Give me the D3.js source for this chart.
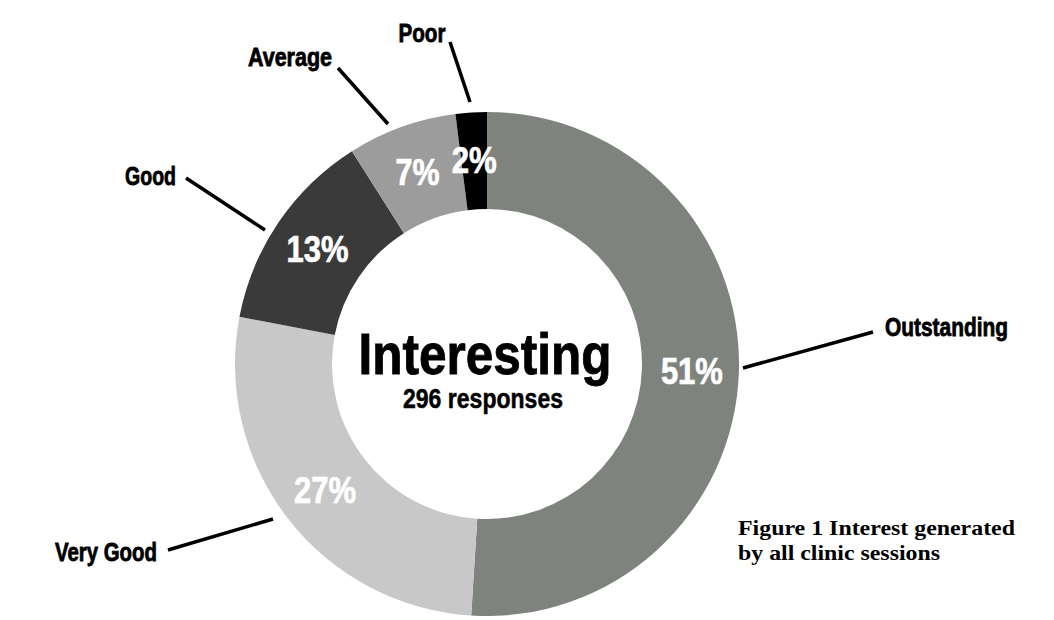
<!DOCTYPE html>
<html>
<head>
<meta charset="utf-8">
<script src="https://cdn.jsdelivr.net/npm/d3@7/dist/d3.min.js"></script>
<style>
  html, body { margin: 0; padding: 0; background: #fff; }
  svg { display: block; }
  .cond { font-family: "Liberation Sans", Arial, Helvetica, sans-serif; font-weight: bold; }
</style>
</head>
<body>
<svg id="chart" width="1054" height="620"></svg>
<script>
// ---- data ----
const categories = ["Outstanding", "Very Good", "Good", "Average", "Poor"];
const percentValues = [51, 27, 13, 7, 2];
const percentLabels = ["51%", "27%", "13%", "7%", "2%"];
const centerTitle = "Interesting";
const centerSubtitle = "296 responses";
const captionLines = ["Figure 1 Interest generated", "by all clinic sessions"];

// ---- layout / style ----
const cx = 487, cy = 364;
const outerR = 252, innerR = 155, labelR = 205;
const colors = d3.scaleOrdinal().domain(categories)
  .range(["#7f837d", "#c8c8c8", "#3a3a3a", "#9c9c9c", "#000000"]);

// condensed look: fixed rendered widths per text
const pctWidths = { "51%": 62, "27%": 62, "13%": 62, "7%": 44, "2%": 45 };
const leaders = {
  "Outstanding": { p1: [743, 368], p2: [873, 332], tx: 885, ty: 336, anchor: "start",  w: 123 },
  "Very Good":   { p1: [273, 519], p2: [168, 550], tx: 157, ty: 561, anchor: "end",    w: 102 },
  "Good":        { p1: [265, 230], p2: [186, 178], tx: 176, ty: 185, anchor: "end",    w: 51 },
  "Average":     { p1: [388, 124], p2: [338, 68],  tx: 332, ty: 66,  anchor: "end",    w: 84 },
  "Poor":        { p1: [470, 102], p2: [450, 42],  tx: 422, ty: 42,  anchor: "middle", w: 47 }
};

const svg = d3.select("#chart");
const g = svg.append("g").attr("transform", `translate(${cx},${cy})`);

const pie = d3.pie().sort(null).value(d => d.v).startAngle(0).endAngle(2 * Math.PI);
const data = categories.map((c, i) => ({ c, v: percentValues[i], lab: percentLabels[i] }));
const arcs = pie(data);

const arc = d3.arc().innerRadius(innerR).outerRadius(outerR);
const labelArc = d3.arc().innerRadius(labelR).outerRadius(labelR);

g.selectAll("path.slice").data(arcs).enter().append("path")
  .attr("class", "slice")
  .attr("d", arc)
  .attr("fill", d => colors(d.data.c));

g.selectAll("text.pct").data(arcs).enter().append("text")
  .attr("class", "pct cond")
  .attr("transform", d => `translate(${labelArc.centroid(d)})`)
  .attr("text-anchor", "middle")
  .attr("dy", "0.38em")
  .attr("font-size", 36)
  .attr("textLength", d => pctWidths[d.data.lab])
  .attr("lengthAdjust", "spacingAndGlyphs")
  .attr("fill", "#fff")
  .attr("stroke", "#fff").attr("stroke-width", 0.7)
  .text(d => d.data.lab);

// center text
g.append("text").attr("class", "cond")
  .attr("text-anchor", "middle").attr("y", 374 - cy).attr("x", -2)
  .attr("font-size", 58).attr("fill", "#000")
  .attr("textLength", 253).attr("lengthAdjust", "spacingAndGlyphs")
  .attr("stroke", "#000").attr("stroke-width", 0.9)
  .text(centerTitle);
g.append("text").attr("class", "cond")
  .attr("text-anchor", "middle").attr("y", 408 - cy).attr("x", -4)
  .attr("font-size", 27).attr("fill", "#000")
  .attr("textLength", 160).attr("lengthAdjust", "spacingAndGlyphs")
  .attr("stroke", "#000").attr("stroke-width", 0.5)
  .text(centerSubtitle);

// leader lines and category labels
const lab = svg.append("g");
categories.forEach(c => {
  const L = leaders[c];
  lab.append("line")
    .attr("x1", L.p1[0]).attr("y1", L.p1[1])
    .attr("x2", L.p2[0]).attr("y2", L.p2[1])
    .attr("stroke", "#000").attr("stroke-width", 3.5);
  lab.append("text").attr("class", "cond")
    .attr("x", L.tx).attr("y", L.ty)
    .attr("text-anchor", L.anchor)
    .attr("font-size", 26).attr("fill", "#000")
    .attr("textLength", L.w).attr("lengthAdjust", "spacingAndGlyphs")
    .attr("stroke", "#000").attr("stroke-width", 0.8)
    .text(c);
});

// caption
const capWidths = [277, 202];
const cap = svg.append("g")
  .attr("font-family", "'Liberation Serif', 'Times New Roman', serif")
  .attr("font-weight", "bold").attr("font-size", 22).attr("fill", "#000");
captionLines.forEach((t, i) => {
  cap.append("text").attr("x", 738).attr("y", 535 + i * 25)
    .attr("textLength", capWidths[i]).attr("lengthAdjust", "spacingAndGlyphs")
    .text(t);
});
</script>
</body>
</html>
